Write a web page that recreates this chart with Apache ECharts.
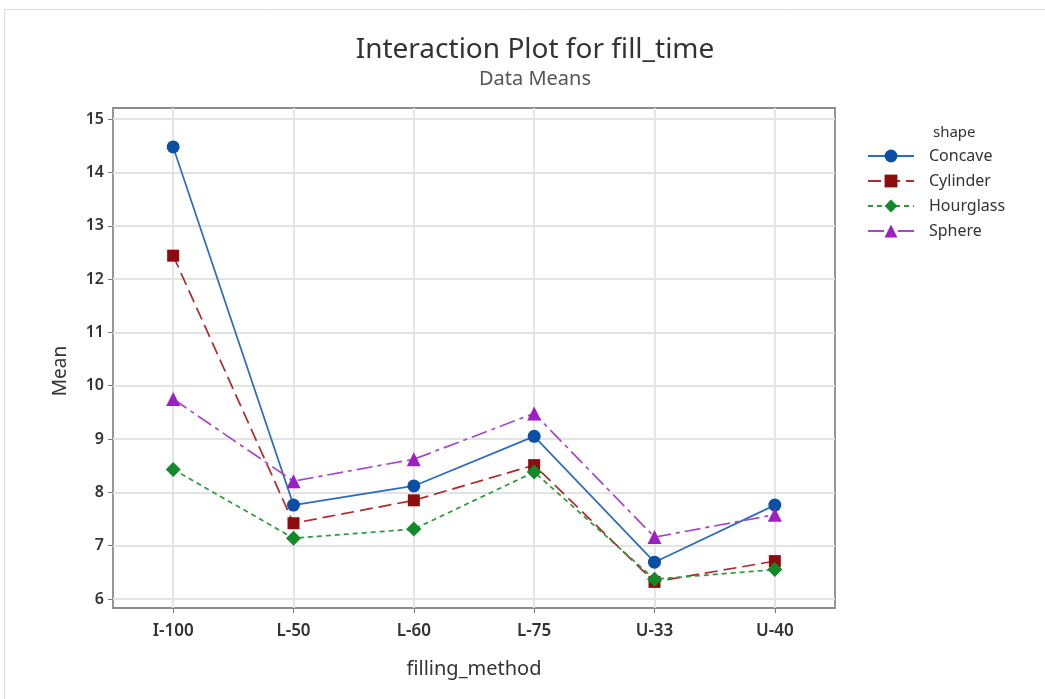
<!DOCTYPE html>
<html>
<head>
<meta charset="utf-8">
<title>Interaction Plot for fill_time</title>
<script src="https://cdn.jsdelivr.net/npm/echarts@6/dist/echarts.min.js"></script>
<style>
  html, body { margin: 0; padding: 0; background: #fff; }
  #chart { width: 1045px; height: 699px; }
</style>
</head>
<body>
<div id="chart"></div>
<script>
// filling methods on the x axis
const methods = ['I-100', 'L-50', 'L-60', 'L-75', 'U-33', 'U-40'];
// mean fill_time per shape
const concave = [14.48, 7.76, 8.12, 9.05, 6.69, 7.76];
const cylinder = [12.44, 7.42, 7.85, 8.51, 6.32, 6.71];
const hourglass = [8.43, 7.14, 7.31, 8.38, 6.37, 6.55];
const sphere = [9.75, 8.21, 8.62, 9.48, 7.16, 7.58];
const yTicks = [6, 7, 8, 9, 10, 11, 12, 13, 14, 15];

const font = '"Noto Sans", "Open Sans", sans-serif';

const makeSeries = (name, data, symbol, lineColor, markerColor, dash, size) => ({
  name,
  type: 'line',
  data,
  symbol,
  symbolSize: size,
  showAllSymbol: true,
  lineStyle: { color: lineColor, width: 1.7, type: dash },
  itemStyle: { color: markerColor },
  emphasis: { disabled: true },
  z: 3
});

const chart = echarts.init(document.getElementById('chart'));
chart.setOption({
  animation: false,
  backgroundColor: '#fff',
  textStyle: { fontFamily: font },
  graphic: [{
    type: 'rect',
    shape: { x: 4.5, y: 9.5, width: 1050, height: 700 },
    style: { fill: 'none', stroke: '#dcdcdc', lineWidth: 1 },
    silent: true
  }],
  title: [
    {
      text: 'Interaction Plot for fill_time',
      subtext: 'Data Means',
      left: 530,
      top: 31,
      textAlign: 'center',
      itemGap: 5,
      textStyle: { fontFamily: font, fontSize: 28, fontWeight: 'normal', color: '#333' },
      subtextStyle: { fontFamily: font, fontSize: 20, color: '#555' }
    },
    {
      text: 'shape',
      left: 928,
      top: 120,
      textStyle: { fontFamily: font, fontSize: 15, fontWeight: 'normal', color: '#333' }
    }
  ],
  legend: {
    orient: 'vertical',
    left: 862,
    top: 143,
    itemWidth: 46,
    itemHeight: 16,
    itemGap: 9,
    textStyle: { fontFamily: font, fontSize: 16, color: '#333', padding: [0, 0, 0, 10] },
    data: ['Concave', 'Cylinder', 'Hourglass', 'Sphere']
  },
  grid: {
    left: 113,
    top: 108,
    right: 210,
    bottom: 91,
    show: true,
    borderColor: '#8c8c8c',
    borderWidth: 1.8,
    backgroundColor: '#fff'
  },
  xAxis: {
    type: 'category',
    data: methods,
    boundaryGap: true,
    name: 'filling_method',
    nameLocation: 'middle',
    nameGap: 51,
    nameTextStyle: { fontFamily: font, fontSize: 20, color: '#333' },
    axisLine: { show: false },
    axisTick: { show: true, alignWithLabel: true, length: 5, lineStyle: { color: '#777' } },
    axisLabel: { margin: 15, fontSize: 17, fontWeight: 600, color: '#333' },
    splitLine: { show: true, alignWithLabel: true, lineStyle: { color: '#e3e3e3', width: 1.8 } }
  },
  yAxis: {
    type: 'value',
    min: 5.83,
    max: 15.21,
    splitNumber: 9,
    name: 'Mean',
    nameLocation: 'middle',
    nameGap: 43,
    nameTextStyle: { fontFamily: font, fontSize: 19, color: '#333', padding: [0, 26, 0, 0] },
    axisLine: { show: false },
    axisTick: { show: true, length: 5, customValues: yTicks, lineStyle: { color: '#777' } },
    axisLabel: {
      margin: 9,
      fontSize: 16,
      fontWeight: 600,
      color: '#333',
      customValues: yTicks,
      formatter: v => (Number.isInteger(v) ? String(v) : '')
    },
    splitLine: { show: true, lineStyle: { color: '#e3e3e3', width: 1.8 } }
  },
  series: [
    makeSeries('Concave', concave, 'circle', '#2b6cc0', '#0a4ea6', 'solid', 13),
    makeSeries('Cylinder', cylinder, 'rect', '#b3282a', '#8f0c0c', [13, 6], 12),
    makeSeries('Hourglass', hourglass, 'diamond', '#2a9a3c', '#128a2a', [5, 4], 15),
    makeSeries('Sphere', sphere, 'triangle', '#a646cc', '#9c1fc4', [16, 5, 4, 5], 14)
  ]
});
</script>
</body>
</html>
